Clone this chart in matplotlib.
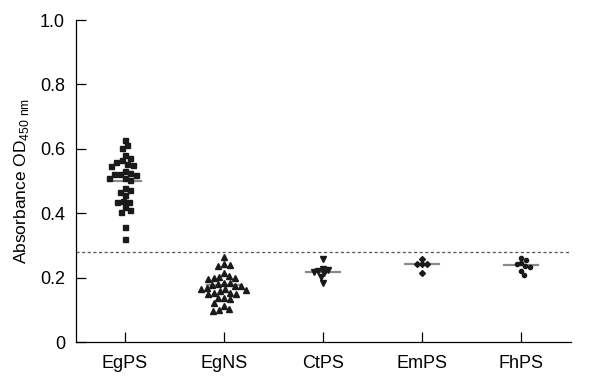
import numpy as np
import matplotlib
matplotlib.use("Agg")
import matplotlib.pyplot as plt

plt.rcParams['font.family'] = ['Liberation Sans', 'DejaVu Sans']
plt.rcParams['mathtext.fontset'] = 'custom'
plt.rcParams['mathtext.rm'] = 'Liberation Sans'

categories = ["EgPS", "EgNS", "CtPS", "EmPS", "FhPS"]
egps = [0.628, 0.611, 0.604, 0.580, 0.573, 0.564, 0.559, 0.554, 0.551, 0.546,
        0.531, 0.525, 0.520, 0.521, 0.521, 0.511, 0.508, 0.502,
        0.477, 0.471, 0.466, 0.456, 0.435, 0.435, 0.438, 0.418, 0.411, 0.404,
        0.357, 0.321]
egns = [0.264, 0.242, 0.238, 0.236, 0.215, 0.205, 0.202, 0.200, 0.200, 0.197,
        0.184, 0.182, 0.179, 0.178, 0.175, 0.174, 0.168, 0.166, 0.163, 0.165,
        0.160, 0.153, 0.150, 0.148, 0.152, 0.138, 0.134, 0.136, 0.122, 0.112,
        0.102, 0.098, 0.100]
ctps = [0.257, 0.228, 0.213, 0.218, 0.221, 0.225, 0.202, 0.184]
emps = [0.259, 0.241, 0.241, 0.242, 0.215]
fhps = [0.246, 0.254, 0.262, 0.237, 0.234, 0.241, 0.221, 0.208]
group_means = [0.500, 0.177, 0.218, 0.241, 0.239]
cutoff = 0.28
series = [egps, egns, ctps, emps, fhps]
markers = ['s', '^', 'v', 'D', 'o']
msizes = [3.6, 3.9, 3.7, 3.0, 3.0]

fig = plt.figure(figsize=(5.94, 3.78), dpi=100)
ax = fig.add_axes([0.128, 0.095, 0.833, 0.852])
ax.set_xlim(-0.49, 4.5)
ax.set_ylim(0, 1.0)

# beeswarm layout in pixel space
fig.canvas.draw()
def to_px(x, y):
    return ax.transData.transform((x, y))

for i, vals in enumerate(series):
    d = 6.0 if i < 2 else 5.0
    placed = []
    order = np.argsort(vals)[::-1]
    xs = np.zeros(len(vals))
    for idx in order:
        cx, cy = to_px(i, vals[idx])
        cands = [0.0]
        for (px, py) in placed:
            dy = abs(py - cy)
            if dy < d:
                dx = np.sqrt(d * d - dy * dy)
                cands += [px - cx + dx, px - cx - dx]
        cands = sorted(cands, key=abs)
        for c in cands:
            ok = all((cx + c - px) ** 2 + (cy - py) ** 2 >= d * d - 1e-6 for px, py in placed)
            if ok:
                break
        placed.append((cx + c, cy))
        inv = ax.transData.inverted().transform((cx + c, cy))
        xs[idx] = inv[0]
    ax.plot(xs, vals, linestyle='none', marker=markers[i], ms=msizes[i],
            color='#1a1a1a', mec='#1a1a1a', zorder=3)
    ax.plot([i - 0.17, i + 0.17], [group_means[i]] * 2, color='#8a8a8a',
            lw=1.6, zorder=2)

ax.axhline(cutoff, color='#555555', lw=0.9, ls=(0, (2.5, 2)), zorder=1)

for s in ['top', 'right']:
    ax.spines[s].set_visible(False)
for s in ['left', 'bottom']:
    ax.spines[s].set_linewidth(0.9)
ax.set_xticks(range(len(categories)))
ax.set_xticklabels(categories)
ax.set_yticks([0, 0.2, 0.4, 0.6, 0.8, 1.0])
ax.set_yticklabels(['0', '0.2', '0.4', '0.6', '0.8', '1.0'])
ax.tick_params(direction='in', length=7, width=0.9, labelsize=13, pad=8)
ax.tick_params(axis='x', pad=9)
ax.set_ylabel('Absorbance OD$_{\\mathregular{450\\ nm}}$', fontsize=12.5, labelpad=6)

fig.savefig('out.png', dpi=100)
